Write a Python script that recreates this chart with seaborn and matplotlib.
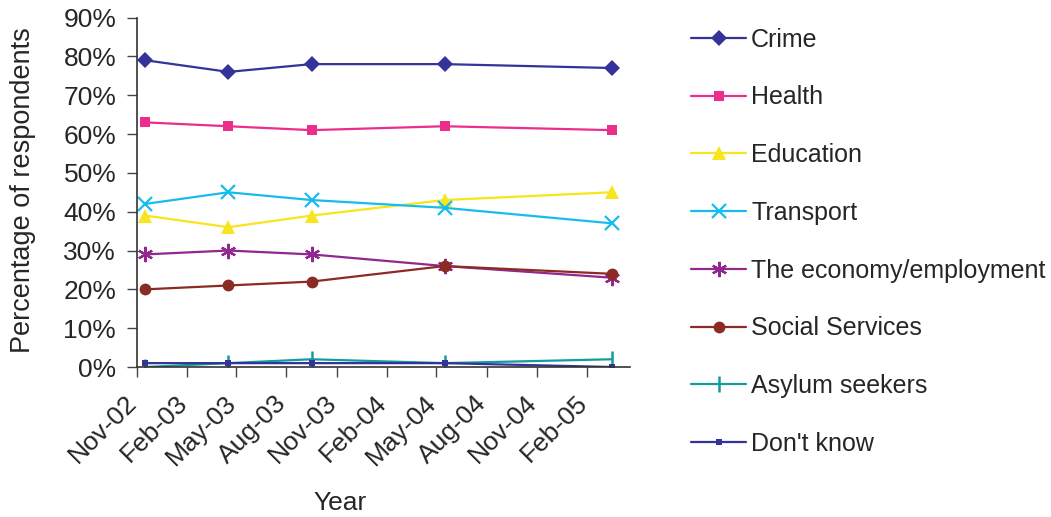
import numpy as np
import pandas as pd
import seaborn as sns
import matplotlib.pyplot as plt
import matplotlib.dates as mdates
from matplotlib.transforms import ScaledTranslation

# survey dates (approximate)
survey_dates = pd.to_datetime(["2002-11-16", "2003-04-17", "2003-09-16",
                               "2004-05-16", "2005-03-18"])

crime = [79, 76, 78, 78, 77]
health = [63, 62, 61, 62, 61]
education = [39, 36, 39, 43, 45]
transport = [42, 45, 43, 41, 37]
economy = [29, 30, 29, 26, 23]
social_services = [20, 21, 22, 26, 24]
asylum_seekers = [0, 1, 2, 1, 2]
dont_know = [1, 1, 1, 1, 0]

series_names = ["Crime", "Health", "Education", "Transport",
                "The economy/employment", "Social Services",
                "Asylum seekers", "Don't know"]
series_values = [crime, health, education, transport, economy,
                 social_services, asylum_seekers, dont_know]

tick_dates = pd.date_range("2002-11-01", "2005-02-01", freq="3MS")

styles = {
    "Crime": dict(color="#333399", marker="D", markersize=8, mew=0),
    "Health": dict(color="#ec2d8c", marker="s", markersize=7.5, mew=0),
    "Education": dict(color="#f7e51e", marker="^", markersize=10.5, mew=0),
    "Transport": dict(color="#18bcec", marker="x", markersize=10, mew=1.6),
    "The economy/employment": dict(color="#92278f", marker=(6, 2, 0), markersize=11, mew=1.6),
    "Social Services": dict(color="#8c2a24", marker="o", markersize=8.5, mew=0),
    "Asylum seekers": dict(color="#139c9c", marker="|", markersize=11, mew=1.8),
    "Don't know": dict(color="#333399", marker="s", markersize=5, mew=0),
}

sns.set_style("ticks")
plt.rcParams["font.family"] = ["Liberation Sans", "DejaVu Sans"]

fig = plt.figure(figsize=(10.51, 5.17), dpi=100)
ax = fig.add_axes([0.1304, 0.2901, 0.469, 0.6760])

for name, vals in zip(series_names, series_values):
    st = styles[name]
    sns.lineplot(x=survey_dates, y=np.array(vals) / 100.0, ax=ax, label=name,
                 color=st["color"], marker=st["marker"],
                 markersize=st["markersize"], markeredgewidth=st["mew"],
                 markeredgecolor=st["color"], linewidth=1.6)

ax.set_ylim(0, 0.9)
ax.set_yticks(np.arange(0, 0.91, 0.1))
ax.set_yticklabels([f"{int(round(v * 100))}%" for v in np.arange(0, 0.91, 0.1)],
                   fontsize=19)
ax.set_xlim(pd.Timestamp("2002-11-01"), pd.Timestamp("2005-04-20"))
ax.set_xticks(tick_dates)
ax.xaxis.set_major_formatter(mdates.DateFormatter("%b-%y"))
ax.tick_params(axis="both", direction="out", length=7, width=1,
               color="#444444")
ax.tick_params(axis="y", pad=8)
ax.tick_params(axis="x", pad=16)
shift = ScaledTranslation(-4 / 100, 0, fig.dpi_scale_trans)
for lbl in ax.get_xticklabels():
    lbl.set_rotation(45)
    lbl.set_ha("right")
    lbl.set_va("center")
    lbl.set_rotation_mode("anchor")
    lbl.set_fontsize(19)
    lbl.set_transform(lbl.get_transform() + shift)

ax.set_xlabel("Year", fontsize=19)
ax.xaxis.set_label_coords(0.412, -0.355)
ax.set_ylabel("Percentage of respondents", fontsize=19.5)
ax.yaxis.set_label_coords(-0.205, 0.506)
sns.despine(ax=ax)
for sp in ["left", "bottom"]:
    ax.spines[sp].set_color("#333333")
    ax.spines[sp].set_linewidth(1.2)

ax.legend_.remove()
handles, labels = ax.get_legend_handles_labels()
fig.legend(handles, labels, loc="upper left", bbox_to_anchor=(0.648, 0.966),
           frameon=False, fontsize=18, labelspacing=1.35, handlelength=2.2,
           handletextpad=0.2, borderaxespad=0)

fig.savefig("out.png", dpi=100)
